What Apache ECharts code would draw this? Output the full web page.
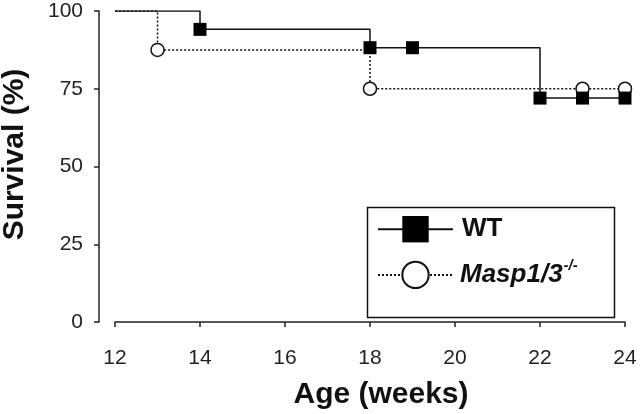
<!DOCTYPE html>
<html>
<head>
<meta charset="utf-8">
<script src="https://cdn.jsdelivr.net/npm/echarts@6/dist/echarts.min.js"></script>
<style>html,body{margin:0;padding:0;background:#fff;}#c{width:641px;height:414px;}</style>
</head>
<body>
<div id="c"></div>
<script>
// Data
const xTicks = [12, 14, 16, 18, 20, 22, 24];
const yTicks = [0, 25, 50, 75, 100];
const wtWeeks = [12, 14, 18, 19, 22, 23, 24];
const wtSurvival = [100, 94.1, 88.2, 88.2, 72.0, 72.0, 72.0];
const maspWeeks = [12, 13, 18, 23, 24];
const maspSurvival = [100, 87.5, 75.0, 75.0, 75.0];
const seriesNames = ['WT', 'Masp1/3-/-'];

const FONT = '"Liberation Sans", Arial, sans-serif';

function toData(xs, ys) {
  return xs.map((x, i) => i === 0 ? { value: [x, ys[i]], symbol: 'none' } : [x, ys[i]]);
}

const chart = echarts.init(document.getElementById('c'), null, { renderer: 'canvas' });
chart.setOption({
  animation: false,
  backgroundColor: '#fff',
  grid: { left: 115, right: 16, top: 11, bottom: 92, containLabel: false, outerBoundsMode: 'none' },
  xAxis: {
    type: 'value', min: xTicks[0], max: xTicks[xTicks.length - 1], interval: 2,
    offset: 15,
    name: 'Age (weeks)', nameLocation: 'middle', nameGap: 43,
    nameTextStyle: { fontFamily: FONT, fontSize: 30, fontWeight: 'bold', color: '#111', padding: [0, 0, 0, 22] },
    axisLine: { show: true, lineStyle: { color: '#222', width: 1.5 } },
    axisTick: { show: true, length: 5, lineStyle: { color: '#222', width: 1.5 } },
    axisLabel: { fontFamily: FONT, fontSize: 21, color: '#222', margin: 11 },
    splitLine: { show: false }
  },
  yAxis: {
    type: 'value', min: yTicks[0], max: yTicks[yTicks.length - 1], interval: 25,
    offset: 16,
    name: 'Survival (%)', nameLocation: 'middle', nameGap: 69,
    nameTextStyle: { fontFamily: FONT, fontSize: 30, fontWeight: 'bold', color: '#111', padding: [0, 0, 0, 24] },
    axisLine: { show: true, lineStyle: { color: '#222', width: 1.5 } },
    axisTick: { show: true, length: 5, lineStyle: { color: '#222', width: 1.5 } },
    axisLabel: { fontFamily: FONT, fontSize: 21, color: '#222', margin: 16 },
    splitLine: { show: false }
  },
  legend: {
    data: seriesNames,
    orient: 'vertical',
    left: 377, top: 216,
    itemWidth: 75, itemHeight: 33, itemGap: 16,
    padding: 0,
    selectedMode: false,
    formatter: function (name) {
      if (name === 'WT') return '{b|WT}';
      return '{it|Masp1/3}{sup|-/-}';
    },
    textStyle: {
      fontFamily: FONT, fontSize: 26, fontWeight: 'bold', color: '#111',
      rich: {
        b: { fontFamily: FONT, fontSize: 26, fontWeight: 'bold', color: '#111', lineHeight: 33, padding: [0, 0, 0, 4] },
        it: { fontFamily: FONT, fontSize: 26, fontWeight: 'bold', fontStyle: 'italic', color: '#111', lineHeight: 33, padding: [0, 0, 0, 2] },
        sup: { fontFamily: FONT, fontSize: 15, fontWeight: 'bold', fontStyle: 'italic', color: '#111', lineHeight: 33, verticalAlign: 'top', padding: [0, 0, 12, 1] }
      }
    }
  },
  graphic: [{
    type: 'rect', left: 365, top: 205, z: 0,
    shape: { width: 247, height: 110 },
    style: { fill: 'none', stroke: '#111', lineWidth: 1.5 }
  }],
  series: [
    {
      name: seriesNames[1], type: 'line', step: 'end',
      data: toData(maspWeeks, maspSurvival),
      symbol: 'circle', symbolSize: 13, showAllSymbol: true,
      lineStyle: { color: '#111', width: 1.5, type: [2, 2] },
      itemStyle: { color: '#fff', borderColor: '#111', borderWidth: 1.5 },
      emphasis: { disabled: true }, z: 2
    },
    {
      name: seriesNames[0], type: 'line', step: 'end',
      data: toData(wtWeeks, wtSurvival),
      symbol: 'rect', symbolSize: 13, showAllSymbol: true,
      lineStyle: { color: '#111', width: 1.5, type: 'solid' },
      itemStyle: { color: '#000', borderColor: '#000', borderWidth: 0 },
      emphasis: { disabled: true }, z: 3
    }
  ]
});
</script>
</body>
</html>
